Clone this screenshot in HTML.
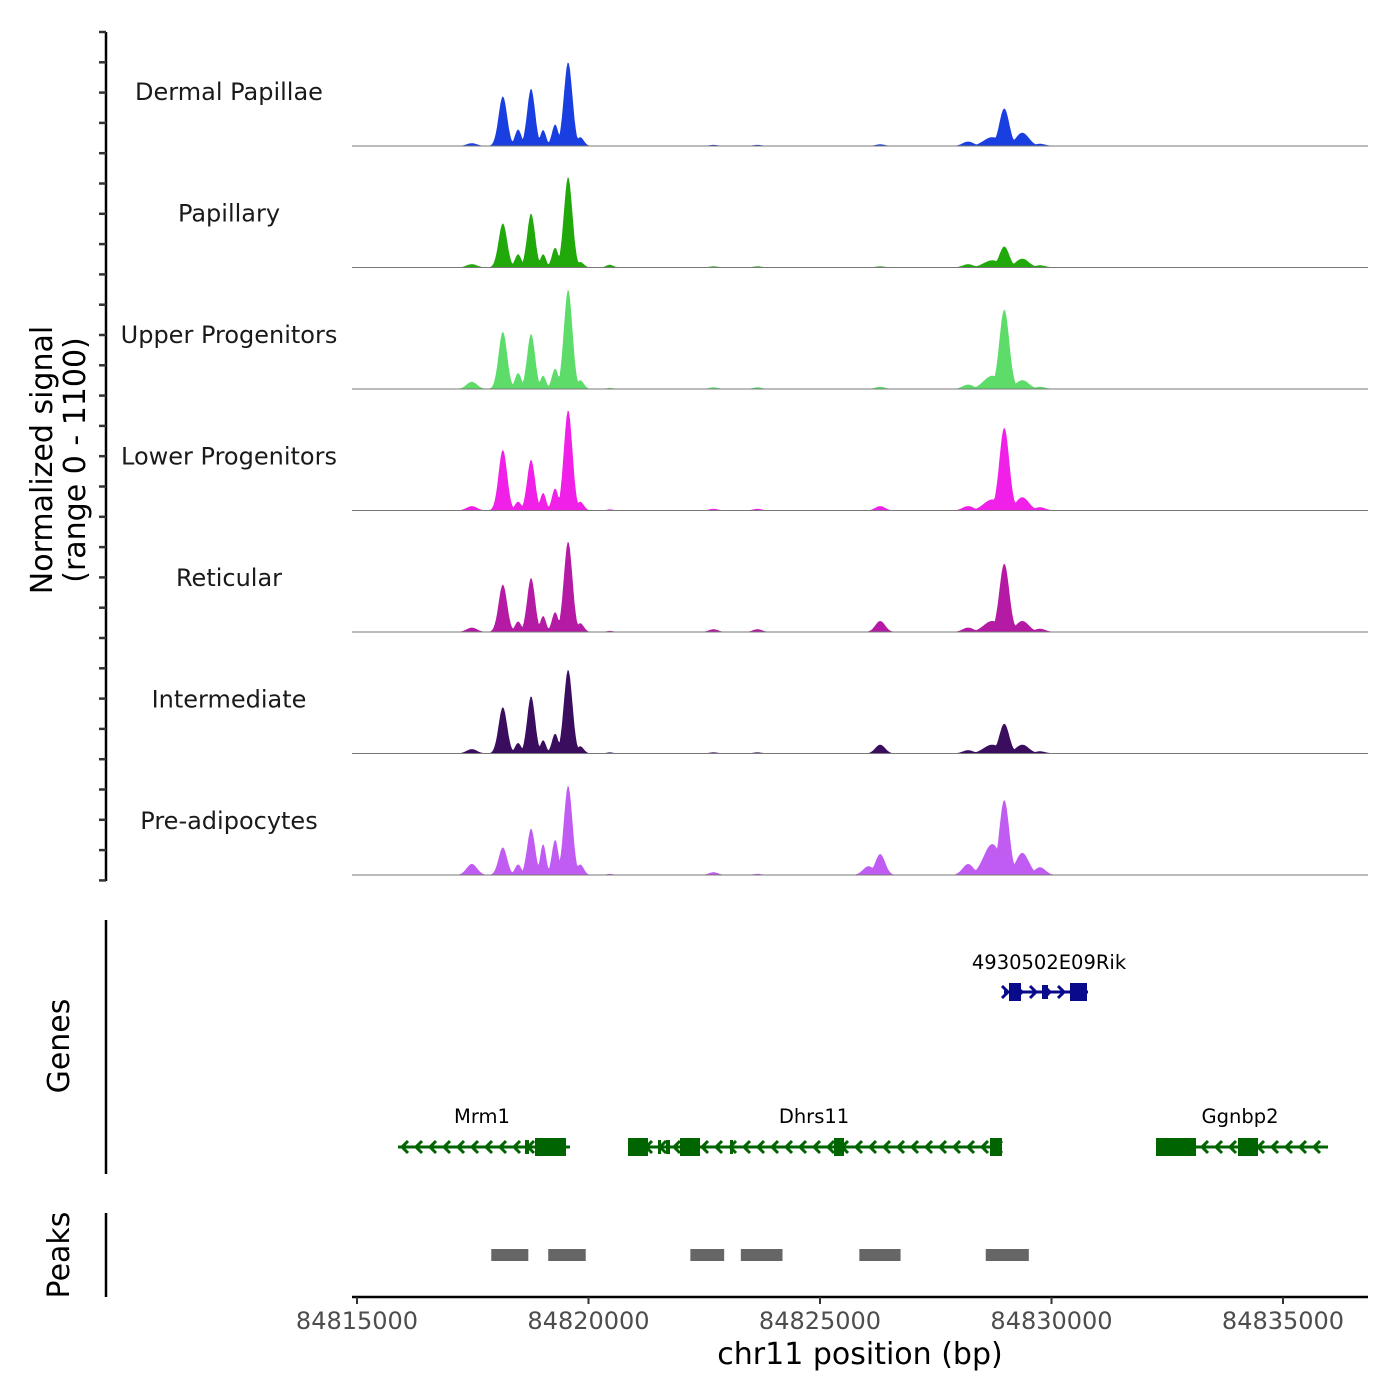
<!DOCTYPE html>
<html><head><meta charset="utf-8"><style>
body{margin:0;background:#fff}
svg{display:block;font-family:"DejaVu Sans","Liberation Sans",sans-serif}
</style></head><body>
<svg id="chart" width="1400" height="1400" viewBox="0 0 1400 1400" xmlns="http://www.w3.org/2000/svg">
<rect width="1400" height="1400" fill="#fff"/>
<defs><clipPath id="plotclip"><rect x="352" y="0" width="1016" height="900"/></clipPath></defs>
<g id="tracks"></g>
<g id="yaxis"></g>
<text transform="translate(52,460) rotate(-90)" text-anchor="middle" font-size="30" fill="#000">Normalized signal</text>
<text transform="translate(85,460) rotate(-90)" text-anchor="middle" font-size="30" fill="#000">(range 0 - 1100)</text>
<line x1="106" y1="920" x2="106" y2="1174" stroke="#000" stroke-width="2.5"/>
<text transform="translate(69,1046) rotate(-90)" text-anchor="middle" font-size="30">Genes</text>
<line x1="106" y1="1213" x2="106" y2="1297" stroke="#000" stroke-width="2.5"/>
<text transform="translate(69,1255) rotate(-90)" text-anchor="middle" font-size="30">Peaks</text>
<g id="genes"></g>
<g id="peaks"></g>
<g id="xaxis"></g>
<text x="860" y="1364" text-anchor="middle" font-size="30">chr11 position (bp)</text>
</svg>
<script>
const NS="http://www.w3.org/2000/svg";
const trackNames=["Dermal Papillae","Papillary","Upper Progenitors","Lower Progenitors","Reticular","Intermediate","Pre-adipocytes"];
const trackColors=["#1a3fe0","#21a80b","#5ddc6a","#f020e8","#b51aa5","#3a0d5f","#c05cf2"];
const peakCenters=[84817480,84818150,84818480,84818760,84819020,84819280,84819560,84819820,84820460,84822700,84823650,84826050,84826300,84828200,84828720,84828980,84829370,84829750];
const peakWidths=[160,130,100,120,90,100,130,110,110,140,140,170,150,170,260,150,200,170];
const valDP =[25,450,150,520,145,195,760,80,0,10,10,0,15,40,80,340,120,20];
const valPap=[30,400,120,490,120,180,820,50,25,10,10,0,10,30,65,190,80,20];
const valUP =[65,520,145,500,120,185,900,80,10,15,15,0,20,40,120,720,80,20];
const valLP =[40,550,80,460,160,200,910,80,10,15,15,0,40,40,100,750,120,30];
const valRet=[40,430,95,490,145,180,820,80,10,25,25,0,100,40,100,620,100,30];
const valInt=[40,420,95,520,120,180,760,65,10,10,10,0,80,30,80,270,80,20];
const valPre=[100,250,95,420,280,320,810,95,10,25,10,80,190,100,280,680,200,70];
const trackValues=[valDP,valPap,valUP,valLP,valRet,valInt,valPre];
const xTicks=[84815000,84820000,84825000,84830000,84835000];
const X0=84815000,X1=84835000,PX0=357,PX1=1283;
function xs(bp){return PX0+(bp-X0)*(PX1-PX0)/(X1-X0);}
const base0=146,trackH=121.5,yMax=1100;
function ys(v,i){return base0+i*trackH - v*(trackH)/yMax;}
const tracks=document.getElementById('tracks');
trackValues.forEach((vals,i)=>{
  const g=document.createElementNS(NS,'g');
  
  
  let pts=[];
  for(let bp=84814900;bp<=84837000;bp+=25){
    let v=2;
    peakCenters.forEach((c,k)=>{const d=(bp-c)/peakWidths[k];v=Math.max(v,vals[k]*Math.exp(-d*d));});
    pts.push(xs(bp).toFixed(1)+','+ys(v,i).toFixed(1));
  }
  const b=ys(0,i);
  const p=document.createElementNS(NS,'polygon');
  p.setAttribute('points',xs(84814900)+','+b+' '+pts.join(' ')+' '+xs(84837000)+','+b);
  p.setAttribute('fill',trackColors[i]);
  p.setAttribute('clip-path','url(#plotclip)');
  
  
  g.appendChild(p);
  const l=document.createElementNS(NS,'line');
  l.setAttribute('x1',352);l.setAttribute('x2',1368);l.setAttribute('y1',b);l.setAttribute('y2',b);
  l.setAttribute('stroke','#777');l.setAttribute('stroke-width','1');
  
  
  g.appendChild(l);
  const t=document.createElementNS(NS,'text');
  t.setAttribute('x',229);t.setAttribute('y',b-46);t.setAttribute('text-anchor','middle');t.setAttribute('font-size','24');t.setAttribute('fill','#1a1a1a');
  t.textContent=trackNames[i];
  
  
  g.appendChild(t);
  tracks.appendChild(g);
});
const ya=document.getElementById('yaxis');
let s='<line x1="106" y1="32" x2="106" y2="881" stroke="#000" stroke-width="2.5"/>';
for(let y=32;y<=882;y+=30.3){s+=`<line x1="99" y1="${y.toFixed(1)}" x2="106" y2="${y.toFixed(1)}" stroke="#333" stroke-width="2.5"/>`;}
ya.innerHTML=s;
const genes=document.getElementById('genes');
const geneDefs=[
 {name:"4930502E09Rik",y:992,x1:1004,x2:1088,dir:1,col:"#0a0a8c",lx:1049,ly:969,ex:[[1009,1021],[1042,1048],[1070,1087]]},
 {name:"Mrm1",y:1147,x1:398,x2:570,dir:-1,col:"#006400",lx:482,ly:1123,ex:[[525,529],[535,566]]},
 {name:"Dhrs11",y:1147,x1:628,x2:1002,dir:-1,col:"#006400",lx:814,ly:1123,ex:[[628,648],[658,661],[666,670],[680,700],[730,733],[834,844],[990,1002]]},
 {name:"Ggnbp2",y:1147,x1:1156,x2:1328,dir:-1,col:"#006400",lx:1240,ly:1123,ex:[[1156,1196],[1238,1258]]}
];
geneDefs.forEach(gd=>{
  const g=document.createElementNS(NS,'g');
  
  
  let h=`<line x1="${gd.x1}" y1="${gd.y}" x2="${gd.x2}" y2="${gd.y}" stroke="${gd.col}" stroke-width="3"/>`;
  for(let x=gd.x1+4;x<gd.x2-2;x+=14){
    const a=-gd.dir*6;
    h+=`<polyline points="${x+a},${gd.y-6} ${x},${gd.y} ${x+a},${gd.y+6}" fill="none" stroke="${gd.col}" stroke-width="3"/>`;
  }
  gd.ex.forEach(e=>{const w=e[1]-e[0];const hh=w>8?18:14;h+=`<rect x="${e[0]}" y="${gd.y-hh/2}" width="${w}" height="${hh}" fill="${gd.col}"/>`;});
  h+=`<text x="${gd.lx}" y="${gd.ly}" text-anchor="middle" font-size="19.5" fill="#000">${gd.name}</text>`;
  g.innerHTML=h;
  genes.appendChild(g);
});
const peakStarts=[84817900,84819130,84822200,84823290,84825850,84828580];
const peakEnds  =[84818700,84819940,84822930,84824190,84826740,84829510];
const pk=document.getElementById('peaks');
peakStarts.forEach((st,i)=>{
  const r=document.createElementNS(NS,'rect');
  r.setAttribute('x',xs(st));r.setAttribute('width',xs(peakEnds[i])-xs(st));
  r.setAttribute('y',1249);r.setAttribute('height',12);r.setAttribute('fill','#666');
  
  
  pk.appendChild(r);
});
const xa=document.getElementById('xaxis');
let xh='<line x1="352" y1="1297" x2="1368" y2="1297" stroke="#000" stroke-width="2.5"/>';
xTicks.forEach(t=>{const x=xs(t);xh+=`<line x1="${x}" y1="1297" x2="${x}" y2="1304" stroke="#333" stroke-width="2"/><text x="${x}" y="1329" text-anchor="middle" font-size="24" fill="#4d4d4d">${t}</text>`;});
xa.innerHTML=xh;
</script>
</body></html>
